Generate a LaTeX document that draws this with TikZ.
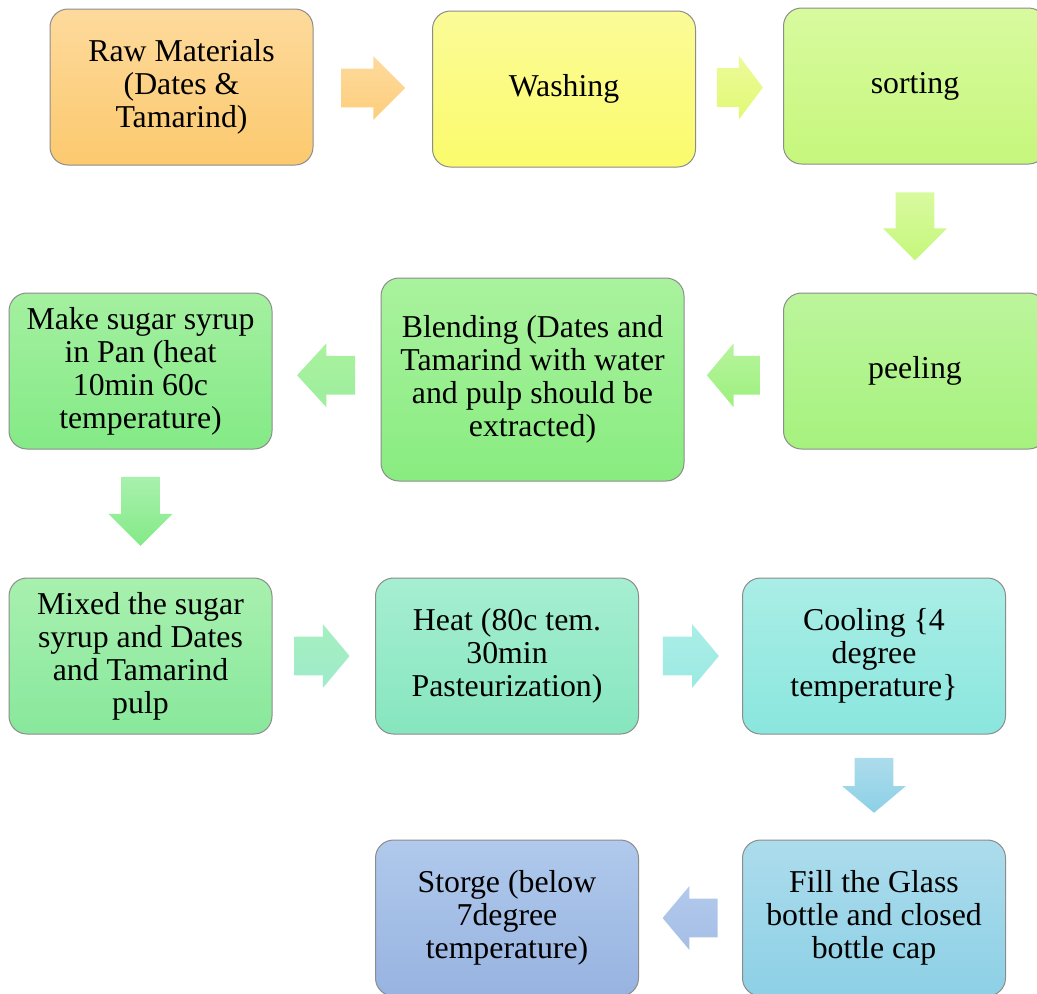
\documentclass[tikz,border=0pt]{standalone}
\usepackage{fontspec}
\setmainfont{Liberation Serif}
\usetikzlibrary{shapes.arrows, calc}

\definecolor{rawT}{HTML}{FDDA9C}   \definecolor{rawB}{HTML}{FCC96E}
\definecolor{washT}{HTML}{FBFB98}  \definecolor{washB}{HTML}{FBFB6C}
\definecolor{sortT}{HTML}{D8FA9E}  \definecolor{sortB}{HTML}{C6F77C}
\definecolor{peelT}{HTML}{BCF59C}  \definecolor{peelB}{HTML}{A6F27E}
\definecolor{blendT}{HTML}{AAF29E} \definecolor{blendB}{HTML}{88EC80}
\definecolor{syrupT}{HTML}{A4F0A0} \definecolor{syrupB}{HTML}{84EA86}
\definecolor{mixT}{HTML}{A8F0AE}   \definecolor{mixB}{HTML}{88E89C}
\definecolor{heatT}{HTML}{A6EED2}  \definecolor{heatB}{HTML}{86E6BE}
\definecolor{coolT}{HTML}{AAEEE6}  \definecolor{coolB}{HTML}{8AE6DE}
\definecolor{fillT}{HTML}{ACDCEC}  \definecolor{fillB}{HTML}{8DD0E6}
\definecolor{storeT}{HTML}{B0C9EC} \definecolor{storeB}{HTML}{97B3E0}

\begin{document}
\begin{tikzpicture}[
    x=0.5pt, y=-0.5pt,
    stepbox/.style={
        draw=black!45,
        line width=0.5pt,
        rounded corners=9pt,
        align=center,
        minimum width=131.5pt,
        minimum height=78pt,
        inner sep=2pt,
        font=\fontsize{15.9}{16.5}\selectfont
    },
    flow/.style={
        single arrow,
        draw=none,
        anchor=tail,
        inner xsep=0pt,
        inner ysep=9.5pt,
        single arrow head extend=6.25pt
    },
    lflow/.style={flow, shape border rotate=180},
    dflow/.style={flow, shape border rotate=270, inner xsep=9.5pt, inner ysep=0pt}
]
\clip (0,0) rectangle (1037,993);

% Nodes
\node (raw) [stepbox, top color=rawT, bottom color=rawB] at (181.5,87) {Raw Materials\\(Dates \&\\Tamarind)};
\node (wash) [stepbox, top color=washT, bottom color=washB] at (564,89) {Washing};
\node (sort) [stepbox, top color=sortT, bottom color=sortB] at (915,86) {sorting};
\node (peel) [stepbox, top color=peelT, bottom color=peelB] at (915,371) {peeling};
\node (blend) [stepbox, minimum width=151.5pt, minimum height=101.5pt, top color=blendT, bottom color=blendB] at (532.5,379.5) {Blending (Dates and\\Tamarind with water\\and pulp should be\\extracted)};
\node (syrup) [stepbox, top color=syrupT, bottom color=syrupB] at (140.5,371) {Make sugar syrup\\in Pan (heat\\10min 60c\\temperature)};
\node (mixed) [stepbox, top color=mixT, bottom color=mixB] at (140.5,656) {Mixed the sugar\\syrup and Dates\\and Tamarind\\pulp};
\node (heat) [stepbox, top color=heatT, bottom color=heatB] at (507,656) {Heat (80c tem.\\30min\\Pasteurization)};
\node (cool) [stepbox, top color=coolT, bottom color=coolB] at (874,656) {Cooling \{4\\degree\\temperature\}};
\node (fill) [stepbox, top color=fillT, bottom color=fillB] at (874,918) {Fill the Glass\\bottle and closed\\bottle cap};
\node (store) [stepbox, top color=storeT, bottom color=storeB] at (507,918) {Storge (below\\7degree\\temperature)};

% Arrows
\node (a1) [flow, minimum height=32pt, xshift=-16pt, top color=rawT, bottom color=rawB!90] at ($(raw.east)!0.5!(wash.west)$) {};
\node (a2) [flow, minimum height=23pt, xshift=-11.5pt, single arrow tip angle=106, top color=washT!60!sortT, bottom color=washB!50!sortB] at ($(wash.east)!0.5!(sort.west)$) {};
\node (a3) [dflow, minimum height=34pt, yshift=17pt, top color=sortT, bottom color=sortB] at ($(sort.south)!0.48!(peel.north)$) {};
\node (a4) [lflow, minimum height=26.5pt, xshift=13.25pt, single arrow tip angle=100, top color=peelT!70!blendT, bottom color=peelB!70!blendB] at ($(peel.west)!0.5!(blend.east)$) {};
\node (a5) [lflow, minimum height=29pt, xshift=14.5pt, single arrow tip angle=95, top color=blendT, bottom color=syrupB!80] at ($(blend.west)!0.5!(syrup.east)$) {};
\node (a6) [dflow, minimum height=34.5pt, yshift=17.25pt, top color=mixT, bottom color=syrupB] at ($(syrup.south)!0.48!(mixed.north)$) {};
\node (a7) [flow, minimum height=27.5pt, xshift=-13.75pt, single arrow tip angle=100, top color=mixT!50!heatT, bottom color=heatB!80] at ($(mixed.east)!0.48!(heat.west)$) {};
\node (a8) [flow, minimum height=28pt, xshift=-14pt, single arrow tip angle=100, top color=coolT, bottom color=coolB!85] at ($(heat.east)!0.5!(cool.west)$) {};
\node (a9) [dflow, minimum height=27.5pt, yshift=13.75pt, single arrow tip angle=100, top color=fillT, bottom color=fillB] at ($(cool.south)!0.48!(fill.north)$) {};
\node (a10) [lflow, minimum height=27.5pt, xshift=13.75pt, single arrow tip angle=100, top color=storeT, bottom color=storeB!85] at ($(fill.west)!0.5!(store.east)$) {};

\end{tikzpicture}
\end{document}
